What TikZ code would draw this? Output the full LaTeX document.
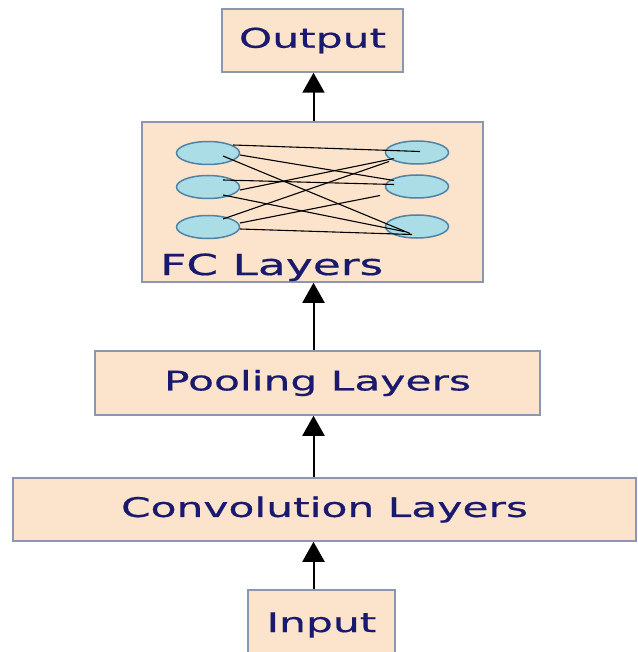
\documentclass[tikz,border=0pt]{standalone}
\usepackage{fontspec}
\setmainfont[FakeStretch=1.57,FakeBold=0.6]{DejaVu Sans}
\usetikzlibrary{arrows.meta,calc,shapes.geometric}
\definecolor{boxfill}{RGB}{252,228,204}
\definecolor{boxline}{RGB}{140,150,175}
\definecolor{labeltext}{RGB}{25,25,110}
\definecolor{unitfill}{RGB}{170,221,230}
\definecolor{unitline}{RGB}{80,130,165}
\tikzset{
  layerfont/.style={font=\fontsize{27}{32}\selectfont, text=labeltext},
  layerbox/.style={draw=boxline, fill=boxfill, line width=1.5pt, inner sep=0pt, layerfont},
  unit/.style={ellipse, draw=unitline, fill=unitfill, line width=1.5pt,
    minimum width=63pt, minimum height=23pt, inner sep=0pt},
  flow/.style={line width=2pt, -{Triangle[width=22pt,length=20pt]}},
  wire/.style={line width=1.1pt}
}
\begin{document}
\begin{tikzpicture}[x=1pt,y=-1pt]
\useasboundingbox (0,0) rectangle (637,652);
\coordinate (axis) at (313.5,0);
% layers, bottom to top
\node[layerbox, minimum width=147pt, minimum height=70pt] (input) at (321.5,625) {Input};
\node[layerbox, minimum width=623pt, minimum height=63pt] (conv) at (324.5,509.5) {Convolution Layers};
\node[layerbox, minimum width=445pt, minimum height=64pt] (pool) at (317.5,383) {Pooling Layers};
\node[layerbox, minimum width=341pt, minimum height=160pt] (fc) at (312.5,202) {};
\node[layerfont, font=\fontsize{29}{35}\selectfont, anchor=base west, inner sep=0pt] (fclabel) at (160,275) {FC Layers};
\node[layerbox, minimum width=181pt, minimum height=63pt] (output) at (312.5,40.5) {Output};
% fully connected units
\foreach \i/\y in {1/153,2/187,3/227} {
  \node[unit] (l\i) at (208,\y) {};
  \node[unit] (r\i) at (417,\y-0.5) {};
}
\foreach \a/\ax/\ay/\b/\bx/\by in {1/25/-8/1/3/-1, 1/32/2/2/-23/-6, 1/15/3/3/-7/7,
    2/15/-7/2/-23/-2, 2/32/3/1/-23/6, 2/15/8/3/-13/5,
    3/15/-8/1/-28/9, 3/32/-4/2/-37/9, 3/32/2/3/-5/8}
  \draw[wire] ($(l\a)+(\ax,\ay)$) -- ($(r\b)+(\bx,\by)$);
% arrows
\draw[flow] (axis |- input.north) -- (axis |- conv.south);
\draw[flow] (axis |- conv.north) -- (axis |- pool.south);
\draw[flow] (axis |- pool.north) -- (axis |- fc.south);
\draw[flow] (axis |- fc.north) -- (axis |- output.south);
\end{tikzpicture}
\end{document}
